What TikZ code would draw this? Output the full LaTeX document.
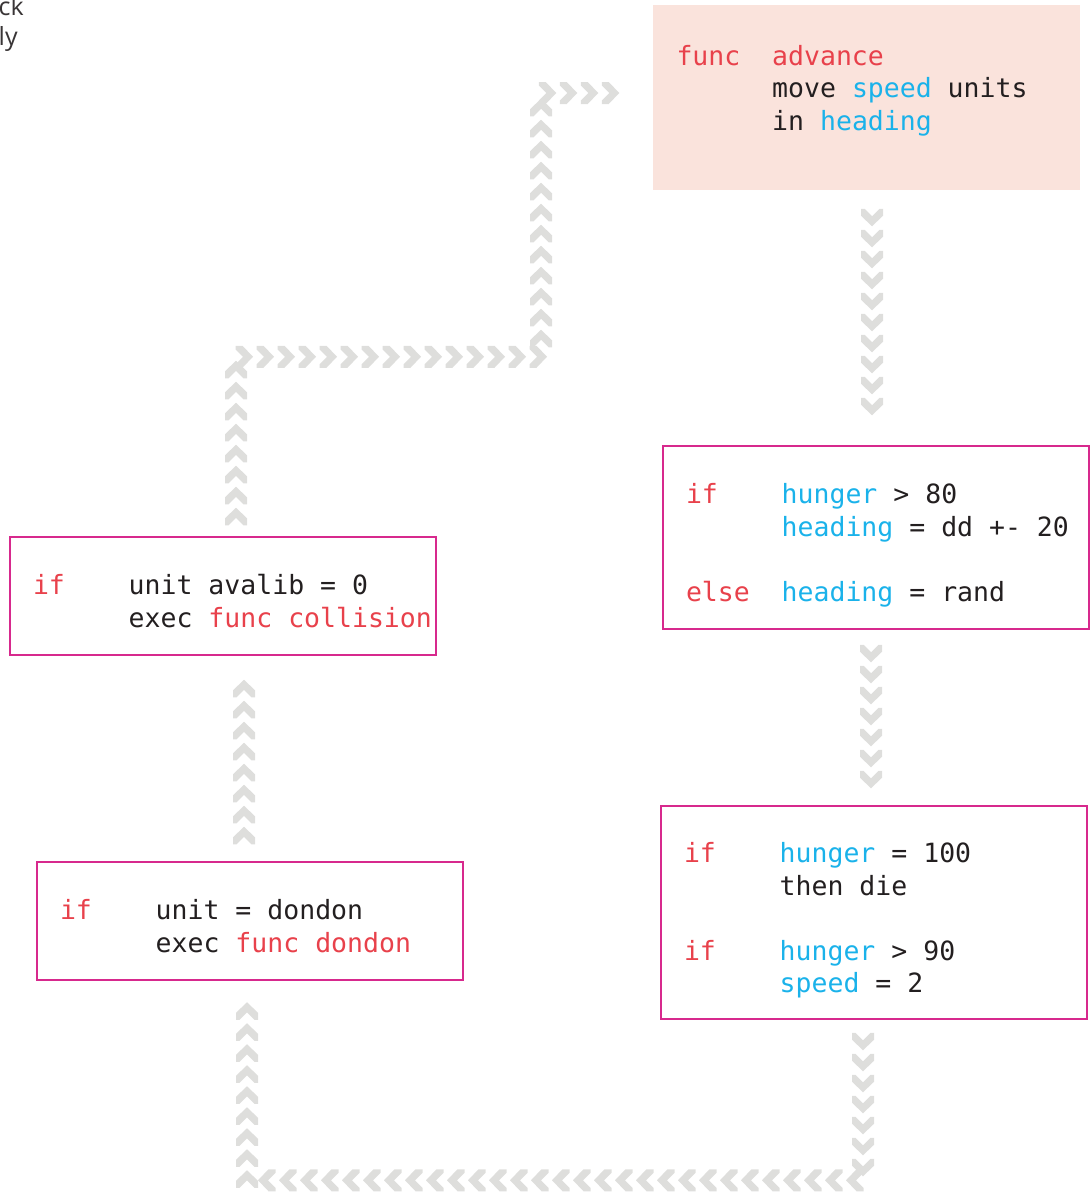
\documentclass[tikz,border=0pt]{standalone}
\usepackage{fontspec}
\setsansfont{Open Sans}
\newfontfamily\codefont{DejaVu Sans Mono}
\usetikzlibrary{decorations.markings}

\definecolor{kwred}{HTML}{E8414B}
\definecolor{varblue}{HTML}{1AB2EA}
\definecolor{boxpink}{HTML}{D7298D}
\definecolor{peach}{HTML}{FAE3DC}
\definecolor{chevgray}{HTML}{DEDEDC}
\definecolor{ink}{HTML}{231F20}

\newcommand\codesize{\codefont\fontsize{26.5pt}{32.5pt}\selectfont}
\newlength\tabw
\AtBeginDocument{\settowidth\tabw{\codesize xxxxxx}}
\newcommand\kw[1]{\makebox[\tabw][l]{\color{kwred}#1}}
\newcommand\red[1]{{\color{kwred}#1}}
\newcommand\var[1]{{\color{varblue}#1}}
\newcommand\topgap{\rule{0pt}{39.75pt}}
% monospaced spaces (align=left would shrink them)
\newcommand\code[1]{{\spaceskip=\fontcharwd\font`x\relax \xspaceskip=\spaceskip
  \begin{tabular}{@{}l@{}}\topgap#1\end{tabular}}}

\tikzset{
  codebox/.style={draw=boxpink, line width=2.5pt, minimum width=426pt,
    text width=380pt, inner xsep=23pt, align=left, font=\codesize, text=ink},
  chevline/.style={decoration={markings,
    mark=between positions 0 and 1 step 21pt with {
      \fill[chevgray] (-8.5,-11) -- (-8.5,-7.5) -- (-1,0) -- (-8.5,7.5) -- (-8.5,11)
        -- (-1.5,11) -- (9,0) -- (-1.5,-11) -- cycle;}}, decorate}
}

\begin{document}
\begin{tikzpicture}[x=1pt,y=-1pt]
  \useasboundingbox (0,0) rectangle (1090,1197);

  % cut-off note
  \node[anchor=base west, inner sep=0, text=ink!90,
        font=\sffamily\fontsize{25pt}{30pt}\selectfont] (ck) at (-1.5,15) {ck};
  \node[anchor=base west, inner sep=0, text=ink!90,
        font=\sffamily\fontsize{25pt}{30pt}\selectfont] (ly) at (-1.5,45) {ly};

  % boxes
  \node[codebox, draw=none, fill=peach, minimum width=427pt, minimum height=185pt] (advance) at (866.5,97.5)
    {\code{\kw{func}\red{advance}\\ \kw{}move \var{speed} units\\ \kw{}in \var{heading}\\[30pt]}};
  \node[codebox, minimum height=183pt] (wander) at (876,537.5)
    {\code{\kw{if}\var{hunger} > 80\\ \kw{}\var{heading} = dd +- 20\\ \\ \kw{else}\var{heading} = rand}};
  \node[codebox, minimum height=213pt] (starve) at (874,912.5)
    {\code{\kw{if}\var{hunger} = 100\\ \kw{}then die\\ \\ \kw{if}\var{hunger} > 90\\ \kw{}\var{speed} = 2}};
  \node[codebox, minimum height=118pt] (collide) at (223,596)
    {\code{\kw{if}unit avalib = 0\\ \kw{}exec \red{func collision}}};
  \node[codebox, minimum height=118pt] (dondon) at (250,921)
    {\code{\kw{if}unit = dondon\\ \kw{}exec \red{func dondon}}};

  % chevron flow
  \path[chevline] ([xshift=5.5pt,yshift=-26pt]advance.south) -- ([xshift=-4pt,yshift=19.5pt]wander.north);
  \path[chevline] ([xshift=-5pt,yshift=-23pt]wander.south) -- ([xshift=-3pt,yshift=24pt]starve.north);
  \path[chevline] ([xshift=-11pt,yshift=-21pt]starve.south) -- ++(0,139)
    -| ([xshift=-3pt,yshift=-28.5pt]dondon.south);
  \path[chevline] ([xshift=-6pt,yshift=25pt]dondon.north) -- ([xshift=21pt,yshift=-32pt]collide.south);
  \path[chevline] ([xshift=13pt,yshift=19pt]collide.north) -- ++(0,-160) -- ++(305,0)
    |- ([xshift=-36pt,yshift=4.5pt]advance.west);
\end{tikzpicture}
\end{document}
